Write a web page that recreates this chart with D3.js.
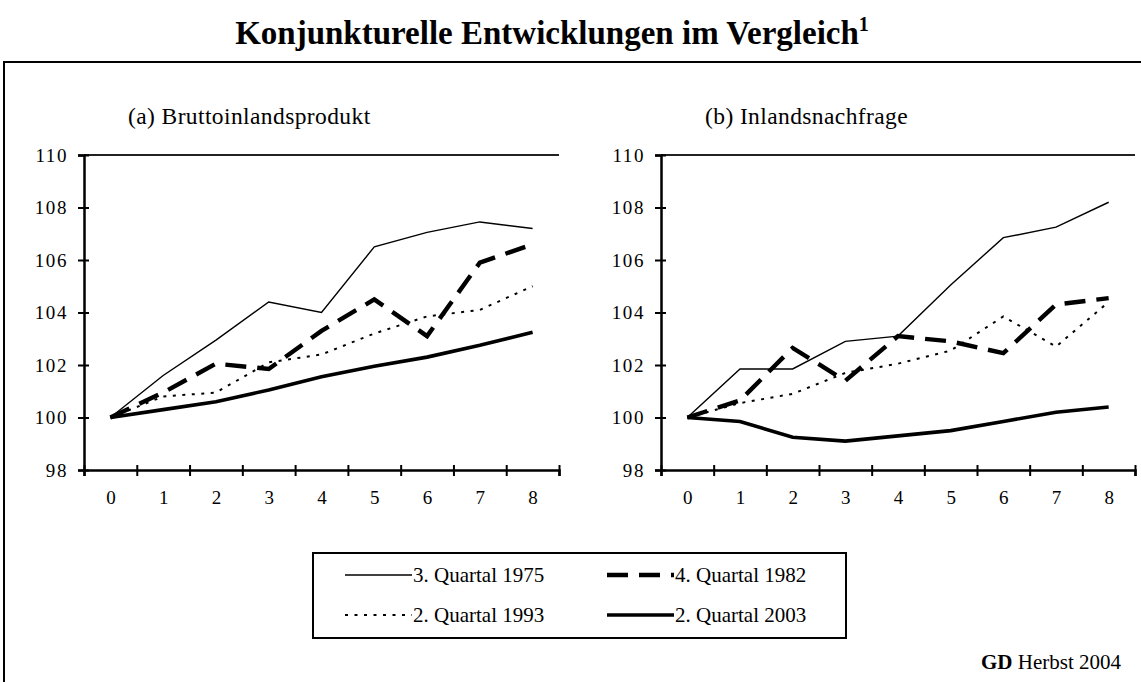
<!DOCTYPE html>
<html>
<head>
<meta charset="utf-8">
<script src="https://cdn.jsdelivr.net/npm/d3@7"></script>
<style>
  body { margin: 0; background: #fff; }
  text { font-family: "Liberation Serif", "Times New Roman", serif; fill: #000; }
</style>
</head>
<body>
<script>
// quarters after the trough, index = 100 at quarter 0
const quarters = [0, 1, 2, 3, 4, 5, 6, 7, 8]
const yTicks = [98, 100, 102, 104, 106, 108, 110]
const seriesNames = ['3. Quartal 1975', '4. Quartal 1982', '2. Quartal 1993', '2. Quartal 2003']

// (a) Bruttoinlandsprodukt
const bip1975 = [100, 101.6, 102.95, 104.4, 104.0, 106.5, 107.05, 107.45, 107.2]
const bip1982 = [100, 100.95, 102.05, 101.85, 103.3, 104.5, 103.1, 105.9, 106.6]
const bip1993 = [100, 100.8, 100.95, 102.1, 102.4, 103.2, 103.85, 104.1, 105.0]
const bip2003 = [100, 100.3, 100.6, 101.05, 101.55, 101.95, 102.3, 102.75, 103.25]

// (b) Inlandsnachfrage
const nf1975 = [100, 101.85, 101.85, 102.9, 103.1, 105.05, 106.85, 107.25, 108.2]
const nf1982 = [100, 100.65, 102.65, 101.4, 103.1, 102.9, 102.45, 104.3, 104.55]
const nf1993 = [100, 100.55, 100.9, 101.7, 102.05, 102.55, 103.85, 102.7, 104.4]
const nf2003 = [100, 99.85, 99.25, 99.1, 99.3, 99.5, 99.85, 100.2, 100.4]

// line look for each series, same order as seriesNames
const lineStyles = [
  { width: 1.4, dash: null },
  { width: 4.4, dash: '21,11' },
  { width: 2, dash: '3,6.5' },
  { width: 3.6, dash: null }
]

const width = 1141, height = 682
const svg = d3.select('body').append('svg')
  .attr('width', width)
  .attr('height', height)

// outer frame
svg.append('rect')
  .attr('x', 4).attr('y', 62)
  .attr('width', 1150).attr('height', 640)
  .attr('fill', 'none').attr('stroke', '#000').attr('stroke-width', 2)

// title
const title = svg.append('text')
  .attr('x', 552).attr('y', 44)
  .attr('text-anchor', 'middle')
  .style('font-size', '33px').style('font-weight', 'bold')
title.append('tspan').text('Konjunkturelle Entwicklungen im Vergleich')
title.append('tspan').attr('dy', -13).style('font-size', '20px').text('1')

function drawPanel(x0, x1, label, series) {
  const top = 155, bottom = 470
  const x = d3.scaleLinear().domain([-0.5, 8.5]).range([x0, x1])
  const y = d3.scaleLinear().domain([98, 110]).range([bottom, top])
  const g = svg.append('g')

  g.append('text')
    .attr('x', x0 + 44).attr('y', 124)
    .style('font-size', '23.5px')
    .style('letter-spacing', '0.4px')
    .text(label)

  // top border line at 110
  g.append('line')
    .attr('x1', x0).attr('x2', x1)
    .attr('y1', y(110)).attr('y2', y(110))
    .attr('stroke', '#222').attr('stroke-width', 1.8)

  // y axis with crossing ticks
  const yAxis = g.append('g')
    .attr('transform', `translate(${x0},0)`)
    .call(d3.axisLeft(y).tickValues(yTicks).tickSize(6).tickPadding(10))
  yAxis.select('.domain').attr('stroke-width', 2.5)
  yAxis.selectAll('.tick line').attr('x2', 5).attr('x1', -6).attr('stroke-width', 2)
  yAxis.selectAll('.tick text')
    .attr('dy', '0.34em')
    .style('font-family', '"Liberation Serif", serif').style('font-size', '19px')
    .style('letter-spacing', '1.6px')

  // x axis: tick marks between quarters, labels under each quarter
  const xTickAxis = g.append('g')
    .attr('transform', `translate(0,${bottom})`)
    .call(d3.axisBottom(x).tickValues(d3.range(-0.5, 9, 1)).tickFormat(''))
  xTickAxis.select('.domain').attr('stroke-width', 2.5)
  xTickAxis.selectAll('.tick line').attr('y1', -5).attr('y2', 6).attr('stroke-width', 2)

  const xLabelAxis = g.append('g')
    .attr('transform', `translate(0,${bottom})`)
    .call(d3.axisBottom(x).tickValues(quarters).tickSize(0).tickPadding(21))
  xLabelAxis.select('.domain').remove()
  xLabelAxis.selectAll('.tick text')
    .style('font-family', '"Liberation Serif", serif').style('font-size', '19px')

  const line = d3.line()
    .x((d, i) => x(quarters[i]))
    .y(d => y(d))

  series.forEach((values, k) => {
    g.append('path')
      .datum(values)
      .attr('d', line)
      .attr('fill', 'none')
      .attr('stroke', '#000')
      .attr('stroke-width', lineStyles[k].width)
      .attr('stroke-dasharray', lineStyles[k].dash)
      .attr('stroke-linejoin', 'miter')
  })
}

drawPanel(84, 559, '(a) Bruttoinlandsprodukt', [bip1975, bip1982, bip1993, bip2003])
drawPanel(661, 1135, '(b) Inlandsnachfrage', [nf1975, nf1982, nf1993, nf2003])

// legend box
const legend = svg.append('g')
svg.append('rect')
  .attr('x', 313).attr('y', 553)
  .attr('width', 533).attr('height', 85)
  .attr('fill', 'none').attr('stroke', '#000').attr('stroke-width', 2)

const legendCols = [345, 607]
const legendRows = [575, 615]
seriesNames.forEach((name, k) => {
  const lx = legendCols[k % 2]
  const ly = legendRows[Math.floor(k / 2)]
  legend.append('line')
    .attr('x1', lx).attr('x2', lx + 67)
    .attr('y1', ly).attr('y2', ly)
    .attr('stroke', '#000')
    .attr('stroke-width', lineStyles[k].width)
    .attr('stroke-dasharray', lineStyles[k].dash)
  legend.append('text')
    .attr('x', lx + 68).attr('y', ly + 7)
    .style('font-size', '21px')
    .text(name)
})

// source note
const note = svg.append('text')
  .attr('x', 1121).attr('y', 669)
  .attr('text-anchor', 'end')
  .style('font-size', '21px')
note.append('tspan').style('font-weight', 'bold').text('GD')
note.append('tspan').text(' Herbst 2004')
</script>
</body>
</html>
